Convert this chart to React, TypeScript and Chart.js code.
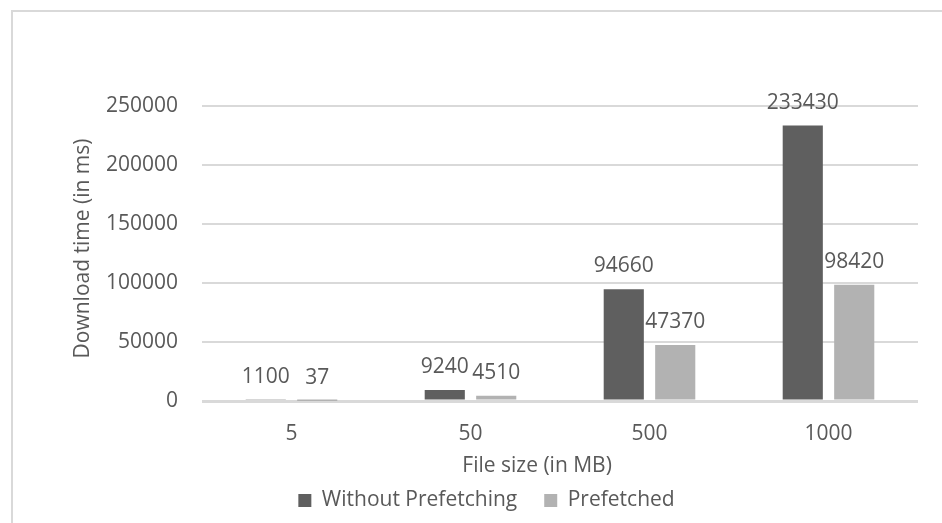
import React, { useEffect, useRef } from "react";
import { Chart, registerables } from "chart.js";

Chart.register(...registerables);

// File sizes in MB
const categories: string[] = ["5", "50", "500", "1000"];
// Download time in ms
const withoutPrefetching: number[] = [1100, 9240, 94660, 233430];
const prefetched: number[] = [37, 4510, 47370, 98420];
const seriesNames: string[] = ["Without Prefetching", "Prefetched"];
const yTickStep = 50000;
const yMax = 250000;
const xTitle = "File size (in MB)";
const yTitle = "Download time (in ms)";

const FONT = "'Open Sans', 'Liberation Sans', sans-serif";
const TEXT = "#595959";
const GRID = "#d9d9d9";
const FONT_SIZE = 21;

// Values printed above each bar
const valueLabels = {
  id: "valueLabels",
  afterDatasetsDraw(chart: any) {
    const { ctx } = chart;
    ctx.save();
    ctx.font = `${FONT_SIZE}px ${FONT}`;
    ctx.fillStyle = TEXT;
    ctx.textAlign = "center";
    ctx.textBaseline = "middle";
    chart.data.datasets.forEach((ds: any, i: number) => {
      const meta = chart.getDatasetMeta(i);
      meta.data.forEach((bar: any, j: number) => {
        ctx.fillText(String(ds.data[j]), bar.x, bar.y - 23);
      });
    });
    ctx.restore();
  },
};

// Axis titles placed relative to the plot area
const axisTitles = {
  id: "axisTitles",
  afterDraw(chart: any) {
    const { ctx, chartArea } = chart;
    ctx.save();
    ctx.font = `${FONT_SIZE}px ${FONT}`;
    ctx.fillStyle = TEXT;
    ctx.textAlign = "center";
    ctx.textBaseline = "middle";
    ctx.fillText(xTitle, chartArea.left + (chartArea.right - chartArea.left) * 0.468, chartArea.bottom + 65);
    ctx.translate(83, (chartArea.top + chartArea.bottom) / 2 - 5);
    ctx.rotate(-Math.PI / 2);
    ctx.fillText(yTitle, 0, 0);
    ctx.restore();
  },
};

export default function App() {
  const canvasRef = useRef<HTMLCanvasElement | null>(null);

  useEffect(() => {
    if (!canvasRef.current) return;
    const chart = new Chart(canvasRef.current, {
      type: "bar",
      data: {
        labels: categories,
        datasets: [
          {
            label: seriesNames[0],
            data: withoutPrefetching,
            backgroundColor: "#5f5f5f",
            categoryPercentage: 0.575,
            barPercentage: 0.78,
          },
          {
            label: seriesNames[1],
            data: prefetched,
            backgroundColor: "#b2b2b2",
            categoryPercentage: 0.575,
            barPercentage: 0.78,
          },
        ],
      },
      options: {
        animation: false,
        responsive: true,
        maintainAspectRatio: false,
        layout: { padding: { left: 55, top: 106, right: 24, bottom: 2 } },
        plugins: {
          legend: {
            position: "bottom",
            labels: {
              boxWidth: 13,
              boxHeight: 13,
              padding: 27,
              color: TEXT,
              font: { family: FONT, size: FONT_SIZE },
            },
          },
          tooltip: { enabled: false },
        },
        scales: {
          x: {
            grid: { display: false, drawTicks: false },
            border: { display: false },
            ticks: {
              color: TEXT,
              padding: 20,
              font: { family: FONT, size: FONT_SIZE },
            },
            afterFit(scale: any) {
              scale.height = 62;
            },
          },
          y: {
            min: 0,
            max: yMax,
            grid: {
              color: GRID,
              drawTicks: false,
              lineWidth: (c: any) => (c.tick && c.tick.value === 0 ? 3 : 2),
            },
            border: { display: false },
            ticks: {
              stepSize: yTickStep,
              color: TEXT,
              padding: 24,
              font: { family: FONT, size: FONT_SIZE },
              callback: (v: any) => String(v),
            },
            afterFit(scale: any) {
              scale.width = 147;
            },
          },
        },
      },
      plugins: [valueLabels, axisTitles],
    });
    return () => chart.destroy();
  }, []);

  return (
    <div
      style={{
        position: "fixed",
        left: 0,
        top: 0,
        width: 942,
        height: 523,
        background: "#ffffff",
        overflow: "hidden",
      }}
    >
      <div
        style={{
          position: "absolute",
          left: 11,
          top: 10,
          width: 960,
          height: 540,
          border: `2px solid ${GRID}`,
          boxSizing: "border-box",
        }}
      />
      <canvas ref={canvasRef} style={{ position: "absolute", left: 0, top: 0 }} />
    </div>
  );
}
